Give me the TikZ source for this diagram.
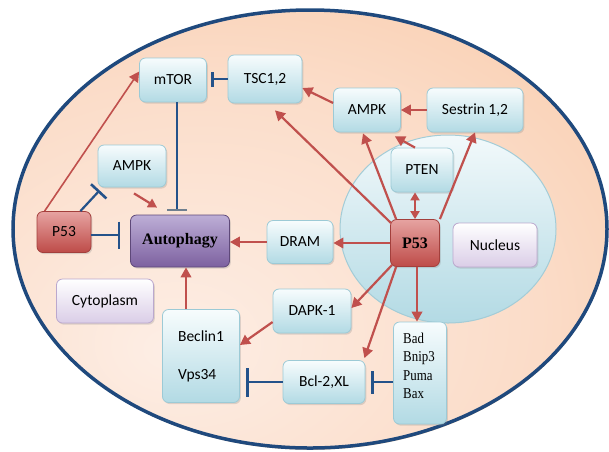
\documentclass[tikz,border=0pt]{standalone}
\usepackage{fontspec}
\setmainfont{Carlito}
\newfontfamily\serifbf{Liberation Serif}
\newfontfamily\condserif[FakeStretch=0.86]{Liberation Serif}
\usetikzlibrary{arrows.meta,shadows,calc}

\definecolor{cellA}{HTML}{FDEEE5}
\definecolor{cellB}{HTML}{FBDCC8}
\definecolor{cellC}{HTML}{F5BC90}
\definecolor{cellline}{HTML}{1F497D}
\definecolor{nucTop}{HTML}{F2F9FB}
\definecolor{nucBot}{HTML}{B3DAE4}
\definecolor{nucLine}{HTML}{A3CCD7}
\definecolor{boxtop}{HTML}{F7FCFD}
\definecolor{boxbot}{HTML}{B2DAE4}
\definecolor{boxline}{HTML}{9CCAD6}
\definecolor{redtop}{HTML}{E6A3A1}
\definecolor{redbot}{HTML}{BE4B48}
\definecolor{redline}{HTML}{A33F3C}
\definecolor{autotop}{HTML}{BDAED6}
\definecolor{autobot}{HTML}{7D61A0}
\definecolor{autoline}{HTML}{5E4879}
\definecolor{lavtop}{HTML}{FFFFFF}
\definecolor{lavbot}{HTML}{DACDE7}
\definecolor{lavline}{HTML}{BBA8CE}
\definecolor{actred}{HTML}{C0504D}
\definecolor{inhblue}{HTML}{24528A}
\definecolor{bargrey}{HTML}{6F7F8F}

\pgfdeclareradialshading{cellshade}{\pgfpoint{-12bp}{-14bp}}{%
  color(0bp)=(cellA); color(28bp)=(cellB); color(62bp)=(cellC); color(100bp)=(cellC)}

\tikzset{
  box/.style={rounded corners=6pt, draw=boxline, line width=0.8pt,
    top color=boxtop, bottom color=boxbot,
    drop shadow={shadow xshift=1.3pt, shadow yshift=-1.6pt, opacity=0.25},
    font=\fontsize{15.5}{18}\selectfont, inner sep=2pt},
  redbox/.style={box, draw=redline, top color=redtop, bottom color=redbot},
  autobox/.style={box, draw=autoline, top color=autotop, bottom color=autobot},
  lavbox/.style={box, draw=lavline, top color=lavtop, bottom color=lavbot},
  sz/.style 2 args={minimum width=#1pt, minimum height=#2pt},
  act/.style={draw=actred, line width=2.2pt, -{Triangle[length=10pt,width=10.5pt]}},
  inh/.style={draw=inhblue, line width=2.2pt},
  tee/.style={-{Bar[width=#1pt,line width=2.6pt]}},
}

\begin{document}
\begin{tikzpicture}[x=1pt, y=-1pt]
\useasboundingbox (0,0) rectangle (609,451);

% cell and nucleus
\path[shade, shading=cellshade, draw=cellline, line width=3.5pt,
  drop shadow={shadow xshift=0.6pt, shadow yshift=-1.8pt, fill=brown!70!orange, opacity=0.45}]
  (310,229) ellipse [x radius=297pt, y radius=219pt];
\path[shade, top color=nucTop, bottom color=nucBot, draw=nucLine, line width=1pt]
  (448,229) ellipse [x radius=108pt, y radius=94pt];

% boxes
\node[box, sz={67}{44}] (mtor) at (173,80) {mTOR};
\node[box, sz={74}{48}] (tsc) at (265,79) {TSC1,2};
\node[box, sz={68}{42}] (ampkL) at (132,166) {AMPK};
\node[redbox, sz={54}{41}] (p53L) at (64,232) {P53};
\node[autobox, sz={99}{52}, font=\serifbf\bfseries\fontsize{16}{18}\selectfont] (auto) at (180,241) {Autophagy};
\node[box, sz={66}{43}] (dram) at (300,242) {DRAM};
\node[box, sz={67}{44}] (ampkR) at (367,110) {AMPK};
\node[box, sz={96}{44}] (sestrin) at (475,110) {Sestrin 1,2};
\node[box, sz={62}{44}] (pten) at (422,170) {PTEN};
\node[redbox, sz={49}{47}, font=\serifbf\bfseries\fontsize{16}{18}\selectfont] (p53) at (415,243) {P53};
\node[lavbox, sz={84}{44}] (nucleus) at (495,245) {Nucleus};
\node[lavbox, sz={97}{44}] (cyto) at (105,301) {Cytoplasm};
\node[box, sz={77}{93}, align=left] (beclin) at (201,356) {Beclin1\\[20pt]Vps34};
\node[box, sz={78}{44}] (dapk) at (312,311) {DAPK-1};
\node[box, sz={82}{43}] (bcl) at (324,382) {Bcl-2,XL};
\node[box, sz={53}{102}] (bad) at (420,373) {};
\node[align=left, font=\condserif\fontsize{15}{18.3}\selectfont, inner sep=0pt]
  (badtxt) at ($(bad.center)+(-1pt,7pt)$) {Bad\\Bnip3\\Puma\\Bax};

% cytoplasmic links
\draw[act, line width=1.6pt] ([xshift=8pt]p53L.north west) -- ([yshift=-14pt]mtor.north west);
\draw[inh, tee=21] ([xshift=-11pt]p53L.north east) -- ($(ampkL.south west)+(2pt,-3pt)$);
\draw[act, -{Triangle[length=9pt,width=9.5pt]}] ($(ampkL.south)+(2pt,-6pt)$) -- ($(auto.north west)+(27pt,7pt)$);
\draw[inh, -{Bar[width=20pt,line width=2pt,color=bargrey]}] ([xshift=4pt]mtor.south) -- ([xshift=-3pt,yshift=4pt]auto.north);
\draw[inh, tee=15] (tsc.west) -- ([xshift=4pt]mtor.east |- tsc.west);
\draw[inh, tee=27] ($(p53L.east)+(0,-3pt)$) -- ($(auto.west |- p53L.east)+(-10pt,-3pt)$);
\draw[act] (dram.west) -- (dram.west -| auto.east);
\draw[act] ([xshift=-15pt]beclin.north) -- ([xshift=-15pt]beclin.north |- auto.south);
\draw[act] ([yshift=-11pt]dapk.west) -- ([yshift=11pt]beclin.east);
\draw[inh, tee=29] (bcl.west) -- ([xshift=6pt]beclin.east |- bcl.west);
\draw[inh, tee=23] (bad.west |- bcl.east) -- ([xshift=6pt]bcl.east);

% links from nuclear P53
\draw[act] (p53.west) -- (p53.west -| dram.east);
\draw[act] ([xshift=2pt]p53.south) -- ([xshift=2pt]p53.south |- bad.north);
\draw[act] ([xshift=2pt,yshift=2pt]p53.south west) -- ([yshift=3pt]dapk.east);
\draw[act] ([xshift=6pt]p53.south west) -- ([xshift=-1pt,yshift=2pt]bcl.north east);
\draw[act] ([xshift=1pt,yshift=-4pt]p53.north west) -- ([xshift=10pt,yshift=-7pt]tsc.south);
\draw[act] ([xshift=6pt]p53.north west) -- ([xshift=-4pt,yshift=-1pt]ampkR.south);
\draw[act, {Triangle[length=8pt,width=9pt]}-{Triangle[length=8pt,width=9pt]}]
  (p53.north) -- (p53.north |- pten.south);
\draw[act] (p53.north east) -- (sestrin.south);
\draw[act] ([xshift=-7pt]pten.north) -- ([xshift=-6pt,yshift=-4pt]ampkR.south east);
\draw[act] (sestrin.west) -- (sestrin.west -| ampkR.east);
\draw[act] ([yshift=7pt]ampkR.west) -- ([yshift=-9pt]tsc.east);
\end{tikzpicture}
\end{document}
